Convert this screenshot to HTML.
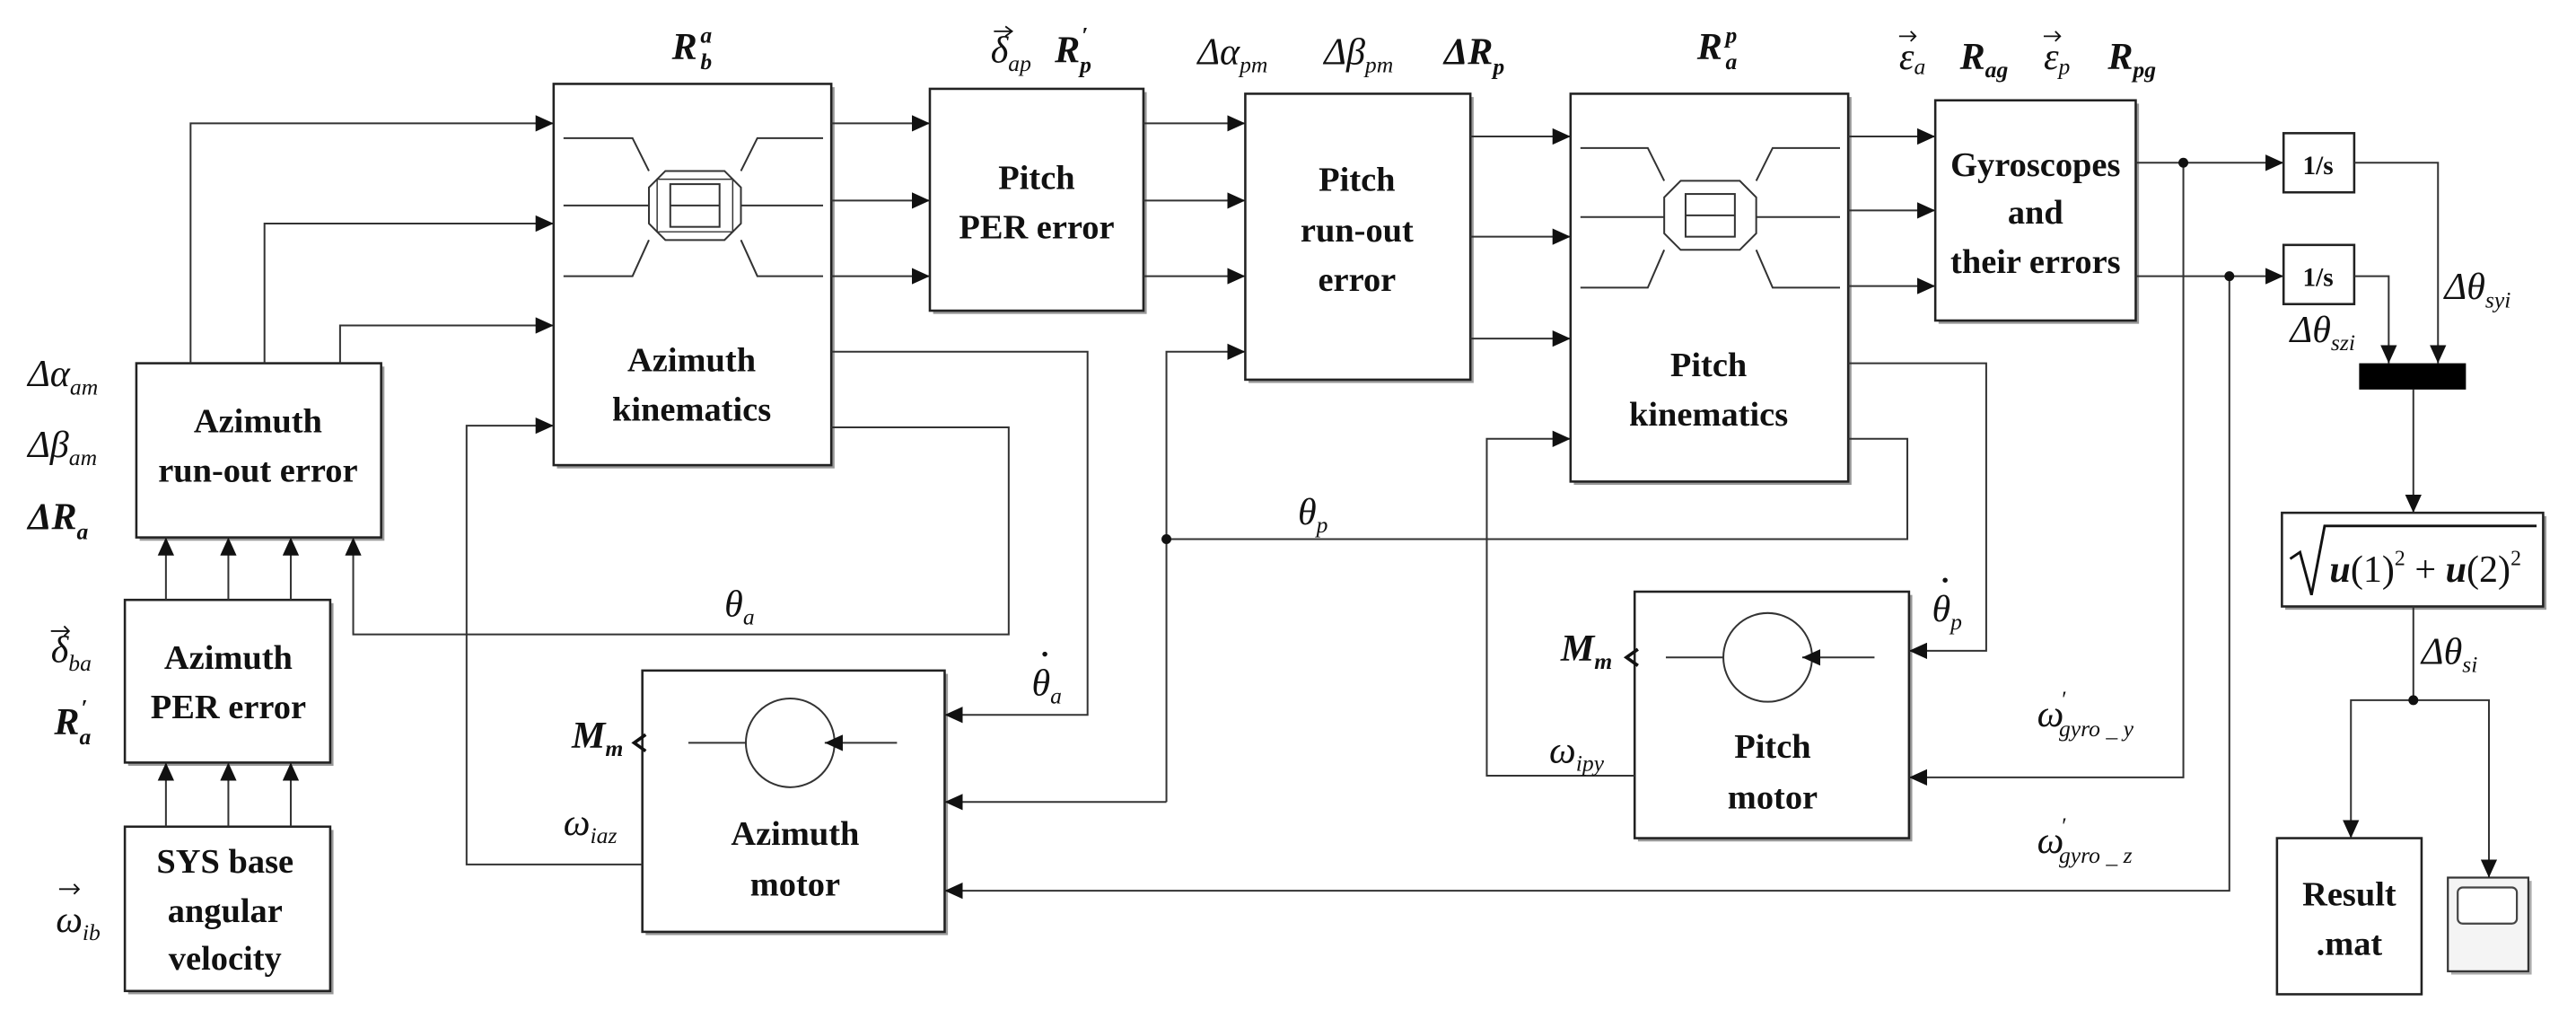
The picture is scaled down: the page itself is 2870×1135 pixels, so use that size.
<!DOCTYPE html>
<html><head><meta charset="utf-8"><style>
html,body{margin:0;padding:0;background:#fff;}
svg{display:block;}
.b{fill:#fff;stroke:#222;stroke-width:1.4;}
.l{fill:none;stroke:#333;stroke-width:1.1;}
.t{font-family:"Liberation Serif",serif;font-weight:bold;font-size:21px;fill:#111;text-anchor:middle;}
.m{font-family:"Liberation Serif",serif;font-style:italic;font-size:23px;fill:#111;}
.mb{font-family:"Liberation Serif",serif;font-style:italic;font-weight:bold;font-size:23px;fill:#111;}
.s{font-size:14px;}
</style></head><body>
<svg width="2870" height="1135" viewBox="0 0 1568 620" xmlns="http://www.w3.org/2000/svg">
<defs>
<marker id="a" markerUnits="userSpaceOnUse" markerWidth="12" markerHeight="10" refX="11" refY="5" orient="auto"><path d="M0,0 L11,5 L0,10 Z" fill="#111"/></marker>
</defs>
<g fill="#999">
<rect x="339" y="53" width="169" height="232"/><rect x="568" y="56" width="130" height="135"/>
<rect x="760" y="59" width="137" height="174"/><rect x="958" y="59" width="169" height="236"/>
<rect x="1180" y="63" width="122" height="134"/><rect x="85" y="223" width="149" height="106"/>
<rect x="78" y="367" width="125" height="99"/><rect x="78" y="505" width="125" height="100"/>
<rect x="393" y="410" width="184" height="159"/><rect x="997" y="362" width="167" height="150"/>
<rect x="1391" y="314" width="159" height="57"/>
</g>
<rect class="b" x="337" y="51" width="169" height="232"/>
<rect class="b" x="566" y="54" width="130" height="135"/>
<rect class="b" x="758" y="57" width="137" height="174"/>
<rect class="b" x="956" y="57" width="169" height="236"/>
<rect class="b" x="1178" y="61" width="122" height="134"/>
<rect class="b" x="83" y="221" width="149" height="106"/>
<rect class="b" x="76" y="365" width="125" height="99"/>
<rect class="b" x="76" y="503" width="125" height="100"/>
<rect class="b" x="391" y="408" width="184" height="159"/>
<rect class="b" x="995" y="360" width="167" height="150"/>
<rect class="b" x="1390" y="81" width="43" height="36"/>
<rect class="b" x="1390" y="149" width="43" height="36"/>
<rect fill="#000" x="1436" y="221" width="65" height="16"/>
<rect class="b" x="1389" y="312" width="159" height="57"/>
<rect class="b" x="1386" y="510" width="88" height="95"/>
<rect fill="#aaa" x="1492" y="536" width="49" height="57"/>
<rect fill="#f4f4f4" stroke="#333" stroke-width="1.2" x="1490" y="534" width="49" height="57"/>
<rect fill="#fff" stroke="#444" stroke-width="1.2" x="1496" y="540" width="36" height="22" rx="3"/>

<g class="l">
<path d="M343,84 H385 L395,104 M343,125 H395 M343,168 H385 L395,146 M501,84 H461 L451,104 M501,125 H451 M501,168 H461 L451,146"/>
<path d="M405,104 H441 L451,114 V136 L441,146 H405 L395,136 V114 Z"/>
<path d="M400,109 H446 V141 H400 Z" stroke-width="0.8"/>
<rect x="408" y="112" width="30" height="26"/><path d="M408,125 H438"/>
<path d="M962,90 H1003 L1013,110 M962,132 H1013 M962,175 H1003 L1013,152 M1120,90 H1079 L1069,110 M1120,132 H1069 M1120,175 H1079 L1069,152"/>
<path d="M1023,110 H1059 L1069,120 V142 L1059,152 H1023 L1013,142 V120 Z"/>
<rect x="1026" y="118" width="30" height="26"/><path d="M1026,131 H1056"/>
</g>
<g class="l">
<circle cx="481" cy="452" r="27"/><path d="M419,452 H454"/><path d="M546,452 H502" marker-end="url(#a)"/>
<circle cx="1076" cy="400" r="27"/><path d="M1014,400 H1049"/><path d="M1141,400 H1097" marker-end="url(#a)"/>
</g>

<g class="l" marker-end="url(#a)">
<polyline points="116,221 116,75 337,75"/>
<polyline points="161,221 161,136 337,136"/>
<polyline points="207,221 207,198 337,198"/>
<polyline points="101,365 101,327"/><polyline points="139,365 139,327"/><polyline points="177,365 177,327"/>
<polyline points="101,503 101,464"/><polyline points="139,503 139,464"/><polyline points="177,503 177,464"/>
<polyline points="506,260 614,260 614,386 215,386 215,327"/>
<polyline points="506,214 662,214 662,435 575,435"/>
<polyline points="391,526 284,526 284,259 337,259"/>
<polyline points="506,75 566,75"/><polyline points="506,122 566,122"/><polyline points="506,168 566,168"/>
<polyline points="696,75 758,75"/><polyline points="696,122 758,122"/><polyline points="696,168 758,168"/>
<polyline points="710,488 710,214 758,214"/>
<polyline points="710,488 575,488"/>
<polyline points="895,83 956,83"/><polyline points="895,144 956,144"/><polyline points="895,206 956,206"/>
<polyline points="995,472 905,472 905,267 956,267"/>
<polyline points="1125,221 1209,221 1209,396 1162,396"/>
<polyline points="1125,83 1178,83"/><polyline points="1125,128 1178,128"/><polyline points="1125,174 1178,174"/>
<polyline points="1300,99 1390,99"/><polyline points="1300,168 1390,168"/>
<polyline points="1329,99 1329,473 1162,473"/>
<polyline points="1357,168 1357,542 575,542"/>
<polyline points="1433,99 1484,99 1484,221"/>
<polyline points="1433,168 1454,168 1454,221"/>
<polyline points="1469,237 1469,312"/>
<polyline points="1469,369 1469,426 1431,426 1431,510"/>
<polyline points="1469,426 1515,426 1515,534"/>
</g>
<polyline class="l" points="1125,267 1161,267 1161,328 710,328"/>
<g fill="#111"><circle cx="710" cy="328" r="3"/><circle cx="1329" cy="99" r="3"/><circle cx="1357" cy="168" r="3"/><circle cx="1469" cy="426" r="3"/></g>
<path d="M393,447 L386,452 L393,457" fill="none" stroke="#111" stroke-width="2"/>
<path d="M997,395 L990,400 L997,405" fill="none" stroke="#111" stroke-width="2"/>

<text class="t" x="421" y="226">Azimuth</text><text class="t" x="421" y="256">kinematics</text>
<text class="t" x="631" y="115">Pitch</text><text class="t" x="631" y="145">PER error</text>
<text class="t" x="826" y="116">Pitch</text><text class="t" x="826" y="147">run-out</text><text class="t" x="826" y="177">error</text>
<text class="t" x="1040" y="229">Pitch</text><text class="t" x="1040" y="259">kinematics</text>
<text class="t" x="1239" y="107">Gyroscopes</text><text class="t" x="1239" y="136">and</text><text class="t" x="1239" y="166">their errors</text>
<text class="t" x="157" y="263">Azimuth</text><text class="t" x="157" y="293">run-out error</text>
<text class="t" x="139" y="407">Azimuth</text><text class="t" x="139" y="437">PER error</text>
<text class="t" x="137" y="531">SYS base</text><text class="t" x="137" y="561">angular</text><text class="t" x="137" y="590">velocity</text>
<text class="t" x="484" y="514">Azimuth</text><text class="t" x="484" y="545">motor</text>
<text class="t" x="1079" y="461">Pitch</text><text class="t" x="1079" y="492">motor</text>
<text class="t" x="1411" y="106" style="font-size:16px">1/s</text>
<text class="t" x="1411" y="174" style="font-size:16px">1/s</text>
<text class="t" x="1430" y="551">Result</text><text class="t" x="1430" y="581">.mat</text>

<path d="M1394,340 L1400,336 L1407,362 L1415,320 L1544,320" fill="none" stroke="#111" stroke-width="1.6"/>
<text x="1418" y="354" style="font-family:'Liberation Serif',serif;font-size:23px;fill:#111"><tspan font-weight="bold" font-style="italic">u</tspan>(1)<tspan dy="-10" font-size="13">2</tspan><tspan dy="10"> + </tspan><tspan font-weight="bold" font-style="italic">u</tspan>(2)<tspan dy="-10" font-size="13">2</tspan></text>

<text class="mb" x="409" y="36">R<tspan class="s" dx="2" dy="6">b</tspan><tspan class="s" dx="-7" dy="-16">a</tspan></text>
<text class="m" x="603" y="38">δ<tspan class="s" dy="5">ap</tspan></text><text class="mb" x="642" y="38">R<tspan class="s" dy="6">p</tspan><tspan class="s" dx="-6" dy="-18">′</tspan></text>
<path d="M605,19 H616 M612,16 L616,19 L612,22" stroke="#111" fill="none"/>
<text class="m" x="729" y="39">Δα<tspan class="s" dy="5">pm</tspan></text>
<text class="m" x="806" y="39">Δβ<tspan class="s" dy="5">pm</tspan></text>
<text class="mb" x="879" y="39">ΔR<tspan class="s" dy="6">p</tspan></text>
<text class="mb" x="1033" y="36">R<tspan class="s" dx="2" dy="6">a</tspan><tspan class="s" dx="-7" dy="-16">p</tspan></text>
<text class="m" x="1156" y="42">ε<tspan class="s" dy="3">a</tspan></text><text class="mb" x="1193" y="42">R<tspan class="s" dy="5">ag</tspan></text>
<text class="m" x="1244" y="42">ε<tspan class="s" dy="3">p</tspan></text><text class="mb" x="1283" y="42">R<tspan class="s" dy="5">pg</tspan></text>
<path d="M1156,22 H1166 M1163,19 L1166,22 L1163,25 M1244,22 H1254 M1251,19 L1254,22 L1251,25" stroke="#111" fill="none"/>
<text class="m" x="17" y="235">Δα<tspan class="s" dy="5">am</tspan></text>
<text class="m" x="17" y="278">Δβ<tspan class="s" dy="5">am</tspan></text>
<text class="mb" x="17" y="322">ΔR<tspan class="s" dy="6">a</tspan></text>
<text class="m" x="31" y="403">δ<tspan class="s" dy="5">ba</tspan></text>
<path d="M31,384 H42 M39,381 L42,384 L39,387" stroke="#111" fill="none"/>
<text class="mb" x="33" y="447">R<tspan class="s" dy="6">a</tspan><tspan class="s" dx="-6" dy="-18">′</tspan></text>
<text class="m" x="34" y="567">ω<tspan class="s" dy="5">ib</tspan></text>
<path d="M36,541 H48 M45,538 L48,541 L45,544" stroke="#111" fill="none"/>
<text class="m" x="441" y="375">θ<tspan class="s" dy="5">a</tspan></text>
<text class="m" x="628" y="423">θ<tspan class="s" dy="5">a</tspan></text><circle cx="636" cy="398" r="1.5" fill="#111"/>
<text class="m" x="790" y="319">θ<tspan class="s" dy="5">p</tspan></text>
<text class="m" x="1176" y="378">θ<tspan class="s" dy="5">p</tspan></text><circle cx="1184" cy="353" r="1.5" fill="#111"/>
<text class="mb" x="348" y="455">M<tspan class="s" dy="5">m</tspan></text>
<text class="m" x="343" y="508">ω<tspan class="s" dy="5">iaz</tspan></text>
<text class="mb" x="950" y="402">M<tspan class="s" dy="5">m</tspan></text>
<text class="m" x="943" y="464">ω<tspan class="s" dy="5">ipy</tspan></text>
<text class="m" x="1240" y="442">ω<tspan class="s" dx="-2" dy="-12">′</tspan><tspan class="s" dx="-4" dy="18">gyro _ y</tspan></text>
<text class="m" x="1240" y="519">ω<tspan class="s" dx="-2" dy="-12">′</tspan><tspan class="s" dx="-4" dy="18">gyro _ z</tspan></text>
<text class="m" x="1488" y="182">Δθ<tspan class="s" dy="5">syi</tspan></text>
<text class="m" x="1394" y="208">Δθ<tspan class="s" dy="5">szi</tspan></text>
<text class="m" x="1474" y="404">Δθ<tspan class="s" dy="5">si</tspan></text>
</svg>
</body></html>
